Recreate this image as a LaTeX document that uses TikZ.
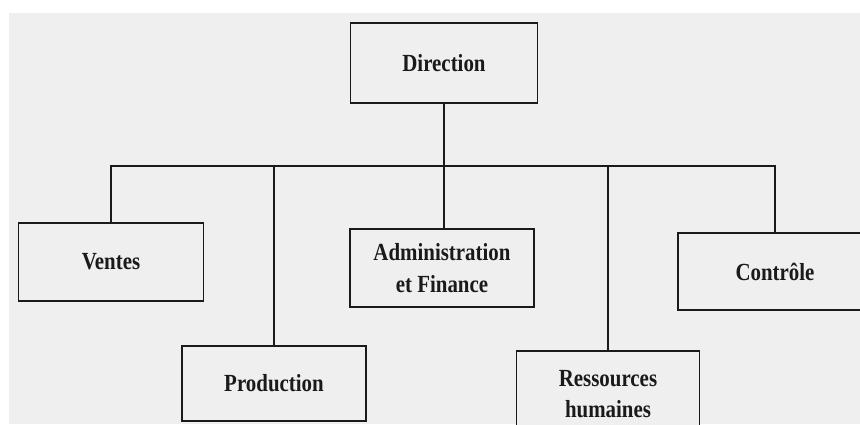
\documentclass[tikz,border=0pt]{standalone}
\usepackage{fontspec}
\newfontfamily\orgfont{Liberation Serif}[FakeStretch=0.85]
\definecolor{fondgris}{HTML}{EFEFEF}
\definecolor{trait}{HTML}{1A1A1A}
\begin{document}
\begin{tikzpicture}[x=0.02cm,y=-0.02cm,
  service/.style={draw=trait,fill=fondgris,line width=1.1pt,align=center,inner sep=0pt,
    minimum width=3.7cm,minimum height=1.56cm,text=trait,
    font=\orgfont\bfseries\fontsize{14}{18}\selectfont},
  lien/.style={draw=trait,line width=1pt}]
  \useasboundingbox (0,0) rectangle (860,424);
  \clip (0,0) rectangle (860,424);
  \fill[fondgris] (9,13) rectangle (860,424);

  % Direction
  \node[service,minimum width=3.74cm,minimum height=1.6cm] (dir) at (444,63) {Direction};

  % Services
  \node[service] (ventes) at (111,262) {Ventes};
  \node[service,minimum width=3.68cm,minimum height=1.5cm] (prod) at (274,383.5) {Production};
  \node[service,minimum width=3.68cm] (admin) at (442,268) {Administration\\et Finance};
  \node[service,minimum width=3.66cm,minimum height=1.72cm] (rh) at (608,394) {Ressources\\humaines};
  \node[service,minimum width=3.88cm,minimum height=1.54cm] (ctrl) at (775,271.5) {Contrôle};

  % Liaisons
  \coordinate (barre) at (444,166);
  \draw[lien] (ventes.north) -- (ventes.north |- barre) -- (ctrl.north |- barre) -- (ctrl.north);
  \foreach \s in {prod,rh}
    \draw[lien] (\s.north) -- (\s.north |- barre);
  \draw[lien] (dir.south) -- (dir.south |- admin.north);
\end{tikzpicture}
\end{document}
